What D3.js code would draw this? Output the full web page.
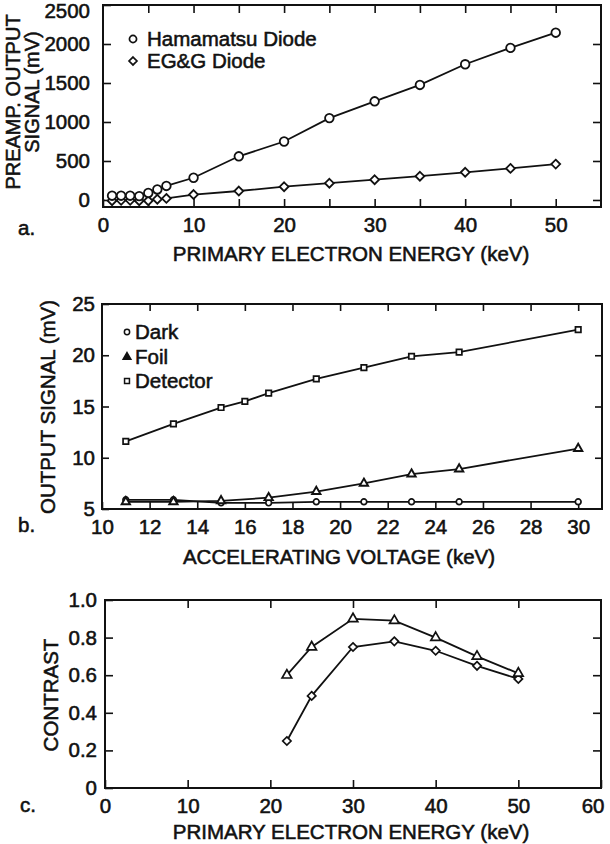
<!DOCTYPE html>
<html>
<head>
<meta charset="utf-8">
<script src="https://cdn.jsdelivr.net/npm/d3@7"></script>
<style>
  html, body { margin: 0; padding: 0; background: #fff; }
  svg { display: block; }
  text { font-family: "Liberation Sans", Arial, Helvetica, sans-serif; fill: #111; stroke: #111; stroke-width: 0.55px; }
</style>
</head>
<body>
<svg id="chart" width="610" height="844"></svg>
<script>
// ---------- Panel a data ----------
const aEnergy = [1, 2, 3, 4, 5, 6, 7, 10, 15, 20, 25, 30, 35, 40, 45, 50];
const aHamamatsu = [55, 55, 55, 50, 90, 135, 180, 285, 560, 750, 1050, 1265, 1475, 1740, 1950, 2145];
const aEGG = [-10, -5, -5, -10, -10, 10, 20, 70, 115, 170, 215, 260, 305, 355, 405, 460];
const aSeriesNames = ["Hamamatsu Diode", "EG&G Diode"];
const aXTicks = [0, 10, 20, 30, 40, 50];
const aYTicks = [0, 500, 1000, 1500, 2000, 2500];

// ---------- Panel b data ----------
const bVoltageDetector = [11, 13, 15, 16, 17, 19, 21, 23, 25, 30];
const bDetector = [11.6, 13.3, 14.9, 15.5, 16.3, 17.7, 18.8, 19.9, 20.3, 22.5];
const bVoltage = [11, 13, 15, 17, 19, 21, 23, 25, 30];
const bFoil = [5.7, 5.7, 5.8, 6.1, 6.7, 7.5, 8.4, 8.9, 10.9];
const bDark = [5.9, 5.9, 5.6, 5.6, 5.7, 5.7, 5.7, 5.7, 5.7];
const bSeriesNames = ["Dark", "Foil", "Detector"];
const bXTicks = [10, 12, 14, 16, 18, 20, 22, 24, 26, 28, 30];
const bYTicks = [5, 10, 15, 20, 25];

// ---------- Panel c data ----------
const cEnergy = [22, 25, 30, 35, 40, 45, 50];
const cTriangle = [0.60, 0.75, 0.90, 0.89, 0.80, 0.70, 0.61];
const cDiamond = [0.25, 0.49, 0.75, 0.78, 0.73, 0.65, 0.58];
const cXTicks = [0, 10, 20, 30, 40, 50, 60];
const cYTicks = [0, 0.2, 0.4, 0.6, 0.8, 1.0];

const svg = d3.select("#chart");
const FS = 20.5;

function sym(type, size) { return d3.symbol().type(type).size(size)(); }

function frame(x, y, opts) {
  const g = svg.append("g");
  const [x0, x1] = x.range(), [y0, y1] = y.range();
  const bx = g.append("g").attr("transform", `translate(0,${y0})`)
    .call(d3.axisBottom(x).tickValues(opts.xTickMarks).tickSize(-opts.tick).tickPadding(opts.xPad)
      .tickFormat(d => opts.xLabels.includes(d) ? opts.xFmt(d) : ""));
  g.append("g").attr("transform", `translate(0,${y1})`)
    .call(d3.axisTop(x).tickValues(opts.xTickMarks.filter(d => d > x.domain()[0] && d < x.domain()[1])).tickSize(-opts.tick).tickFormat(""));
  const ly = g.append("g").attr("transform", `translate(${x0},0)`)
    .call(d3.axisLeft(y).tickValues(opts.yTicks).tickSize(-opts.tick).tickPadding(opts.yPad).tickFormat(opts.yFmt));
  g.append("g").attr("transform", `translate(${x1},0)`)
    .call(d3.axisRight(y).tickValues(opts.yTicks.filter(d => d > y.domain()[0] && d < y.domain()[1])).tickSize(-opts.tick).tickFormat(""));
  g.selectAll(".domain").remove();
  g.selectAll(".tick line").attr("stroke", "#111").attr("stroke-width", 1.6);
  g.selectAll(".tick text").attr("font-size", FS).attr("fill", "#111");
  g.attr("font-family", null);
  g.append("rect").attr("x", x0).attr("y", y1).attr("width", x1 - x0).attr("height", y0 - y1)
    .attr("fill", "none").attr("stroke", "#111").attr("stroke-width", 2);
  return {bx, ly};
}

function series(g, x, y, xs, ys, type, size, sw) {
  const pts = xs.map((d, i) => [x(d), y(ys[i])]);
  g.append("path").attr("d", d3.line()(pts)).attr("fill", "none").attr("stroke", "#111").attr("stroke-width", 1.8);
  g.selectAll(null).data(pts).enter().append("path")
    .attr("transform", d => `translate(${d[0]},${d[1]})`)
    .attr("d", sym(type, size)).attr("fill", "#fff").attr("stroke", "#111").attr("stroke-width", sw);
}

function title(txt, x, y, rot) {
  const t = svg.append("text").attr("font-size", FS).attr("text-anchor", "middle").text(txt);
  if (rot) t.attr("transform", `translate(${x},${y}) rotate(-90)`);
  else t.attr("x", x).attr("y", y);
  return t;
}

// ================= Panel a =================
{
  const x = d3.scaleLinear().domain([0, 55]).range([103, 601]);
  const y = d3.scaleLinear().domain([-90, 2500]).range([207, 5]);
  const ax = frame(x, y, {xTickMarks: d3.range(0, 55, 5), xLabels: aXTicks, xFmt: d3.format("d"), tick: 8, xPad: 10,
    yTicks: aYTicks, yPad: 13, yFmt: d3.format("d")});
  ax.ly.selectAll(".tick text").filter(d => d === 2500).attr("dy", "0.62em");
  const g = svg.append("g");
  series(g, x, y, aEnergy, aEGG, d3.symbolDiamond2, 50, 1.8);
  series(g, x, y, aEnergy, aHamamatsu, d3.symbolCircle, 58, 1.8);
  const lg = svg.append("g");
  [[d3.symbolCircle, 40, 39], [d3.symbolDiamond2, 40, 61]].forEach((s, i) => {
    lg.append("path").attr("transform", `translate(133,${s[2]})`).attr("d", sym(s[0], s[1]))
      .attr("fill", "#fff").attr("stroke", "#111").attr("stroke-width", 1.7);
    lg.append("text").attr("x", 147).attr("y", s[2] + 7).attr("font-size", FS).text(aSeriesNames[i]);
  });
  title("PRIMARY ELECTRON ENERGY (keV)", 351, 261, false);
  title("PREAMP. OUTPUT", 19.5, 102, true).attr("font-size", 20);
  title("SIGNAL (mV)", 39, 92, true).attr("font-size", 20);
  svg.append("text").attr("x", 18).attr("y", 235).attr("font-size", FS).text("a.");
}

// ================= Panel b =================
{
  const x = d3.scaleLinear().domain([10, 31]).range([102, 602]);
  const y = d3.scaleLinear().domain([5, 25]).range([509, 304]);
  frame(x, y, {xTickMarks: bXTicks, xLabels: bXTicks, xFmt: d3.format("d"), tick: 7, xPad: 10,
    yTicks: bYTicks, yPad: 7, yFmt: d3.format("d")});
  const g = svg.append("g");
  series(g, x, y, bVoltage, bDark, d3.symbolCircle, 26, 1.7);
  series(g, x, y, bVoltage, bFoil, d3.symbolTriangle, 30, 1.9);
  series(g, x, y, bVoltageDetector, bDetector, d3.symbolSquare, 30, 1.7);
  const lg = svg.append("g");
  [[d3.symbolCircle, 22, 332, "#fff"], [d3.symbolTriangle, 26, 357, "#111"], [d3.symbolSquare, 24, 381, "#fff"]].forEach((s, i) => {
    lg.append("path").attr("transform", `translate(127,${s[2]})`).attr("d", sym(s[0], s[1]))
      .attr("fill", s[3]).attr("stroke", "#111").attr("stroke-width", 1.5);
    lg.append("text").attr("x", 135).attr("y", s[2] + 7).attr("font-size", FS).text(bSeriesNames[i]);
  });
  title("ACCELERATING VOLTAGE (keV)", 339, 564, false);
  title("OUTPUT SIGNAL (mV)", 55, 407, true);
  svg.append("text").attr("x", 18).attr("y", 532).attr("font-size", FS).text("b.");
}

// ================= Panel c =================
{
  const x = d3.scaleLinear().domain([0, 60]).range([105, 601]);
  const y = d3.scaleLinear().domain([0, 1]).range([788, 600]);
  const ax = frame(x, y, {xTickMarks: cXTicks, xLabels: cXTicks, xFmt: d3.format("d"), tick: 8, xPad: 10,
    yTicks: cYTicks, yPad: 8, yFmt: d => d === 0 ? "0" : d3.format(".1f")(d)});
  ax.bx.selectAll(".tick text").filter(d => d === 60).attr("text-anchor", "end").attr("dx", 3);
  const g = svg.append("g");
  series(g, x, y, cEnergy, cDiamond, d3.symbolDiamond2, 44, 1.7);
  series(g, x, y, cEnergy, cTriangle, d3.symbolTriangle, 40, 1.7);
  title("PRIMARY ELECTRON ENERGY (keV)", 351, 839, false);
  title("CONTRAST", 58, 695, true);
  svg.append("text").attr("x", 20).attr("y", 812).attr("font-size", FS).text("c.");
}
</script>
</body>
</html>
